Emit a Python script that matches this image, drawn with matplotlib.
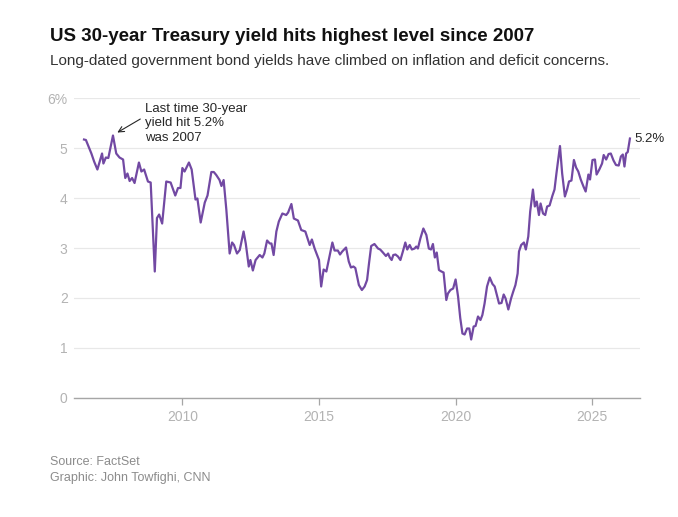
import matplotlib
matplotlib.use('Agg')
import matplotlib.pyplot as plt
import matplotlib.ticker as mticker

# 30-year Treasury yield (%), x in decimal years
years = [
    2006.40, 2006.47, 2006.67, 2006.77, 2006.89, 2007.06, 2007.11, 2007.20, 2007.29, 2007.46,
    2007.58, 2007.70, 2007.83, 2007.91, 2007.99, 2008.07, 2008.16, 2008.25, 2008.41, 2008.50,
    2008.60, 2008.74, 2008.84, 2008.99, 2009.07, 2009.15, 2009.26, 2009.41, 2009.57, 2009.74,
    2009.84, 2009.93, 2010.00, 2010.08, 2010.24, 2010.34, 2010.48, 2010.55, 2010.67, 2010.82,
    2010.92, 2011.06, 2011.15, 2011.24, 2011.36, 2011.43, 2011.51, 2011.61, 2011.73, 2011.82,
    2011.89, 2012.00, 2012.10, 2012.24, 2012.32, 2012.43, 2012.49, 2012.58, 2012.68, 2012.83,
    2012.93, 2013.00, 2013.10, 2013.20, 2013.26, 2013.34, 2013.44, 2013.53, 2013.66, 2013.80,
    2013.87, 2013.99, 2014.08, 2014.23, 2014.35, 2014.50, 2014.66, 2014.74, 2014.84, 2015.00,
    2015.08, 2015.17, 2015.27, 2015.49, 2015.57, 2015.69, 2015.77, 2015.85, 2015.99, 2016.09,
    2016.17, 2016.26, 2016.33, 2016.46, 2016.57, 2016.67, 2016.76, 2016.83, 2016.91, 2017.03,
    2017.16, 2017.24, 2017.34, 2017.45, 2017.53, 2017.59, 2017.66, 2017.72, 2017.80, 2017.89,
    2017.98, 2018.07, 2018.16, 2018.23, 2018.32, 2018.40, 2018.50, 2018.56, 2018.62, 2018.71,
    2018.82, 2018.93, 2019.02, 2019.10, 2019.17, 2019.24, 2019.31, 2019.39, 2019.48, 2019.56,
    2019.66, 2019.72, 2019.81, 2019.91, 2020.00, 2020.09, 2020.17, 2020.25, 2020.33, 2020.42,
    2020.50, 2020.57, 2020.66, 2020.73, 2020.82, 2020.91, 2020.98, 2021.06, 2021.15, 2021.25,
    2021.35, 2021.43, 2021.59, 2021.68, 2021.76, 2021.83, 2021.93, 2022.03, 2022.11, 2022.19,
    2022.27, 2022.32, 2022.40, 2022.50, 2022.57, 2022.66, 2022.73, 2022.83, 2022.90, 2022.97,
    2023.05, 2023.11, 2023.20, 2023.28, 2023.35, 2023.44, 2023.54, 2023.62, 2023.69, 2023.82,
    2023.90, 2024.00, 2024.08, 2024.15, 2024.24, 2024.33, 2024.41, 2024.49, 2024.58, 2024.68,
    2024.76, 2024.86, 2024.92, 2025.01, 2025.10, 2025.16, 2025.26, 2025.36, 2025.42, 2025.51,
    2025.60, 2025.68, 2025.78, 2025.87, 2025.97, 2026.05, 2026.12, 2026.18, 2026.24, 2026.30,
    2026.38,
]
yields = [
    5.17, 5.16, 4.89, 4.73, 4.57, 4.89, 4.69, 4.81, 4.80, 5.25,
    4.89, 4.81, 4.77, 4.40, 4.49, 4.34, 4.40, 4.30, 4.71, 4.53,
    4.57, 4.33, 4.31, 2.53, 3.60, 3.67, 3.49, 4.33, 4.31, 4.05,
    4.20, 4.20, 4.60, 4.53, 4.71, 4.57, 3.97, 3.99, 3.51, 3.91,
    4.05, 4.52, 4.52, 4.46, 4.36, 4.24, 4.36, 3.76, 2.89, 3.11,
    3.06, 2.89, 2.96, 3.33, 3.09, 2.63, 2.76, 2.55, 2.76, 2.86,
    2.81, 2.89, 3.15, 3.09, 3.09, 2.86, 3.33, 3.53, 3.69, 3.66,
    3.71, 3.88, 3.59, 3.55, 3.36, 3.33, 3.06, 3.17, 2.99, 2.76,
    2.23, 2.57, 2.53, 3.11, 2.95, 2.95, 2.87, 2.93, 3.01, 2.73,
    2.61, 2.63, 2.60, 2.26, 2.16, 2.23, 2.36, 2.69, 3.04, 3.08,
    2.99, 2.97, 2.91, 2.84, 2.89, 2.81, 2.76, 2.86, 2.87, 2.83,
    2.76, 2.93, 3.11, 2.97, 3.06, 2.97, 2.99, 3.03, 2.99, 3.19,
    3.39, 3.26, 2.99, 2.97, 3.08, 2.81, 2.91, 2.56, 2.53, 2.51,
    1.96, 2.09, 2.16, 2.19, 2.37, 2.03, 1.60, 1.29, 1.27, 1.39,
    1.39, 1.17, 1.43, 1.44, 1.63, 1.56, 1.66, 1.89, 2.23, 2.41,
    2.28, 2.23, 1.89, 1.90, 2.07, 1.99, 1.77, 1.99, 2.13, 2.26,
    2.49, 2.93, 3.06, 3.11, 2.97, 3.23, 3.73, 4.17, 3.83, 3.93,
    3.66, 3.89, 3.69, 3.66, 3.83, 3.85, 4.04, 4.17, 4.49, 5.04,
    4.49, 4.03, 4.17, 4.33, 4.35, 4.76, 4.61, 4.53, 4.37, 4.23,
    4.13, 4.47, 4.37, 4.76, 4.77, 4.47, 4.57, 4.69, 4.86, 4.77,
    4.88, 4.89, 4.75, 4.66, 4.65, 4.83, 4.87, 4.63, 4.89, 4.92,
    5.19,
]
x_ticks = [2010, 2015, 2020, 2025]
y_ticks = [0, 1, 2, 3, 4, 5, 6]

PURPLE = '#7249a3'
TICK_GRAY = '#b3b3b3'
DARK = '#262626'

plt.rcParams.update({
    'font.family': ['Liberation Sans', 'DejaVu Sans'],
})

fig = plt.figure(figsize=(6.78, 5.17), dpi=100)
ax = fig.add_axes([0.109, 0.2302, 0.835, 0.5802])

ax.plot(years, yields, color=PURPLE, linewidth=1.6, solid_joinstyle='round', zorder=3)

ax.set_xlim(2006.03, 2026.75)
ax.set_ylim(0, 6)
ax.set_xticks(x_ticks)
ax.set_yticks(y_ticks)
ax.yaxis.set_major_formatter(mticker.FuncFormatter(lambda v, _: f'{v:.0f}%' if v == 6 else f'{v:.0f}'))
ax.xaxis.set_major_formatter(mticker.FuncFormatter(lambda v, _: f'{v:.0f}'))

for s in ['top', 'right', 'left']:
    ax.spines[s].set_visible(False)
ax.spines['bottom'].set_color('#a6a6a6')
ax.spines['bottom'].set_linewidth(1.0)
ax.grid(axis='y', color='#e8e8e8', linewidth=0.9, zorder=0)
ax.set_axisbelow(True)
ax.tick_params(axis='y', length=0, pad=4.5, labelsize=10, labelcolor=TICK_GRAY)
ax.tick_params(axis='x', length=5, width=0.9, color='#a6a6a6', pad=4, labelsize=10, labelcolor=TICK_GRAY)

# annotation for the 2007 peak
ax.text(2008.62, 5.91, 'Last time 30-year\nyield hit 5.2%\nwas 2007',
        fontsize=9.5, color=DARK, ha='left', va='top', linespacing=1.33)
ax.annotate('', xy=(2007.62, 5.31), xytext=(2008.46, 5.58),
            arrowprops=dict(arrowstyle='->', color=DARK, linewidth=0.8,
                            shrinkA=0, shrinkB=0))

# end label
ax.annotate(f'{yields[-1]:.1f}%', xy=(years[-1], yields[-1]), xytext=(3.5, 0),
            textcoords='offset points', fontsize=9.5, color=DARK, va='center', ha='left')

fig.text(0.074, 0.930, 'US 30-year Treasury yield hits highest level since 2007',
         fontsize=13.5, fontweight='bold', color='#111111', va='center', ha='left')
fig.text(0.074, 0.882, 'Long-dated government bond yields have climbed on inflation and deficit concerns.',
         fontsize=11, color='#333333', va='center', ha='left')
fig.text(0.074, 0.107, 'Source: FactSet', fontsize=9, color='#8c8c8c', va='center', ha='left')
fig.text(0.074, 0.075, 'Graphic: John Towfighi, CNN', fontsize=9, color='#8c8c8c', va='center', ha='left')

fig.savefig('out.png', dpi=100)
